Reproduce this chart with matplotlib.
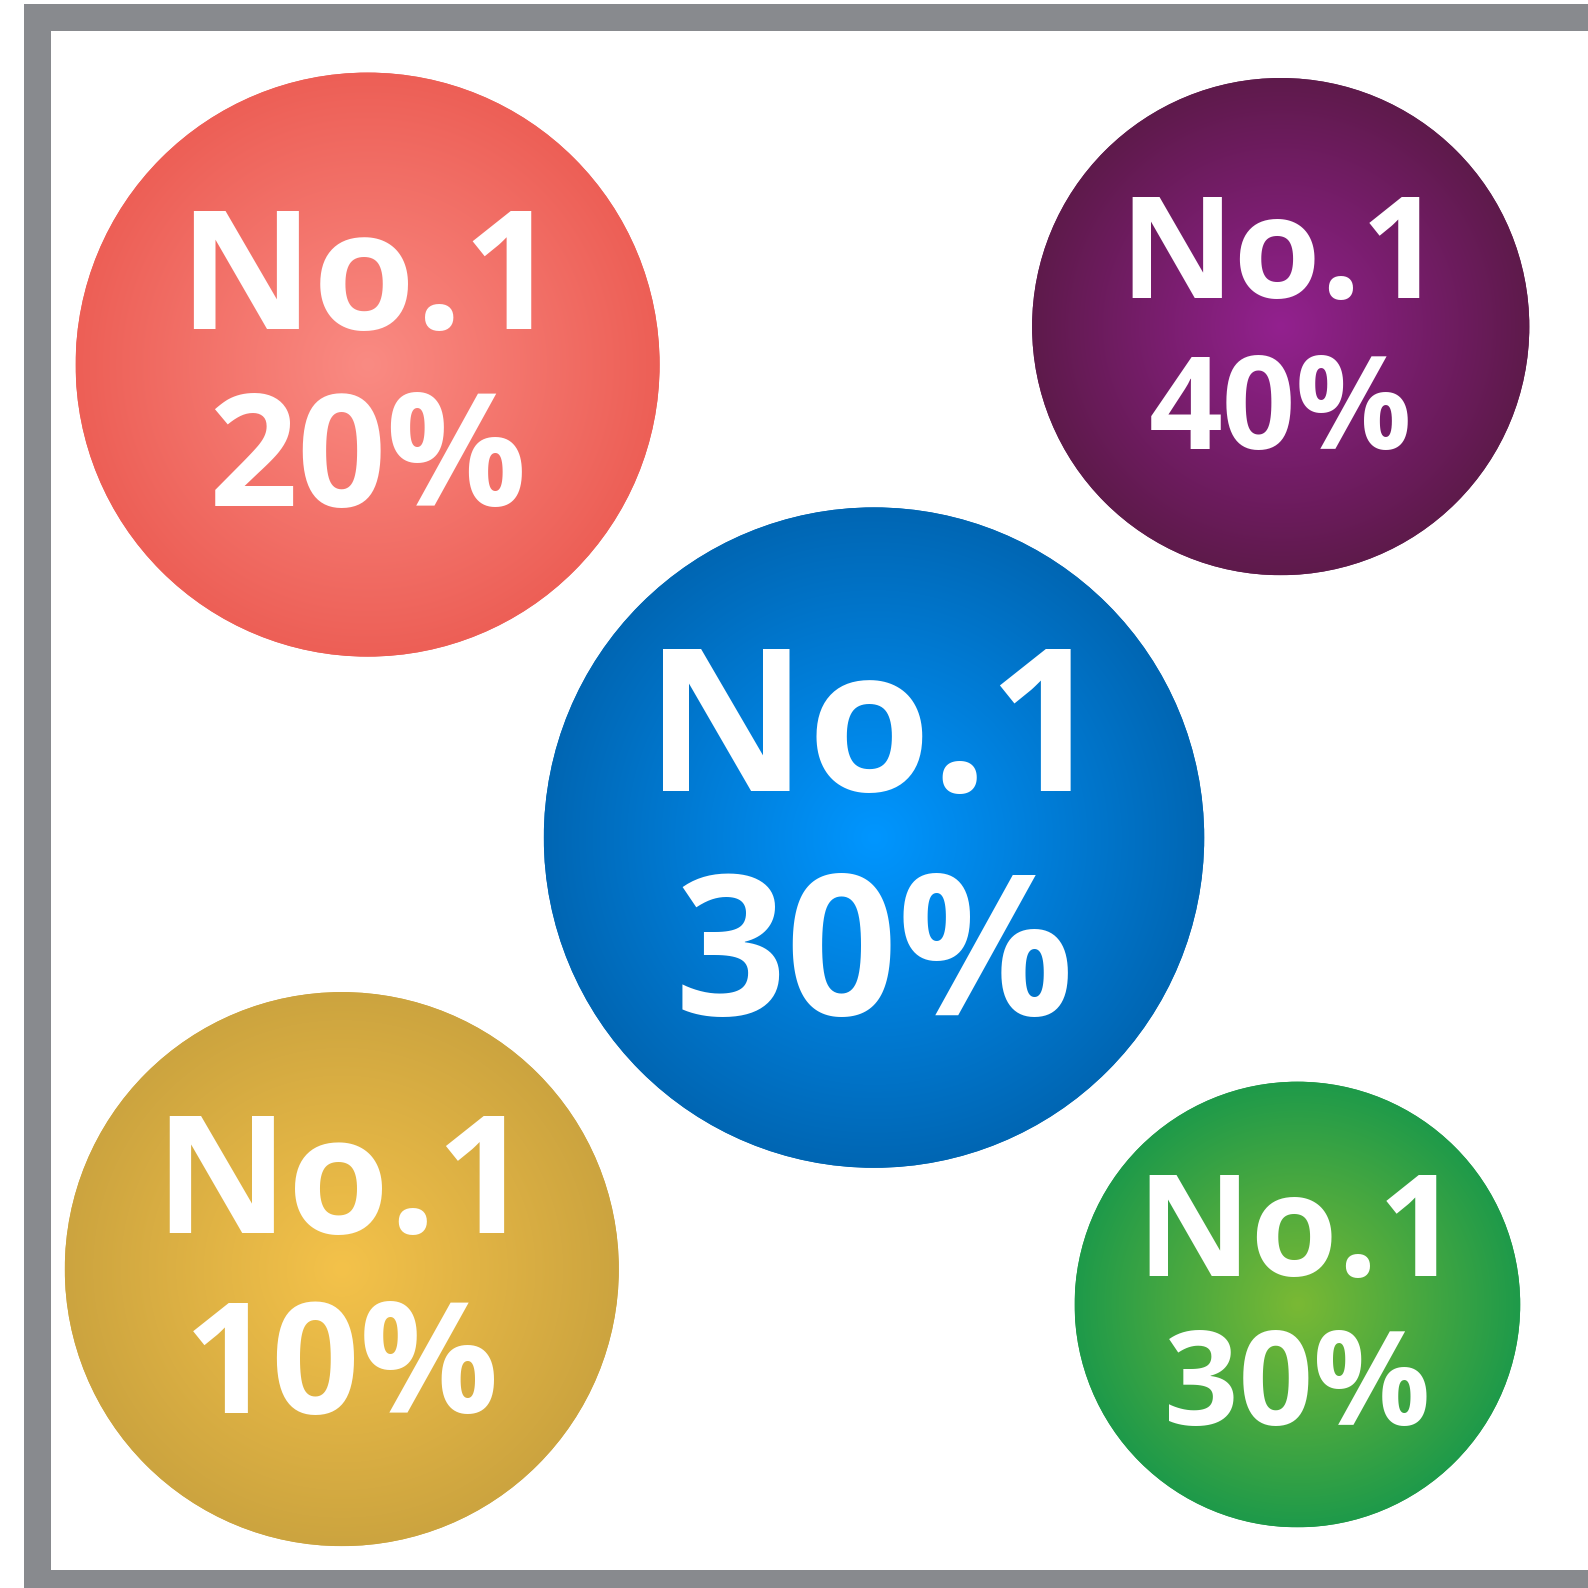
import numpy as np
import matplotlib
matplotlib.use("Agg")
import matplotlib.pyplot as plt
from matplotlib.patches import Circle, Rectangle
from matplotlib.colors import to_rgb

# ---- data ----
ranks = ["No.1", "No.1", "No.1", "No.1", "No.1"]
shares = ["20%", "40%", "30%", "10%", "30%"]
center_x = [367.6, 1280.7, 874.0, 341.8, 1297.4]
center_y = [364.6, 326.6, 837.6, 1269.1, 1304.5]
radius = [292.0, 248.6, 330.2, 277.0, 222.8]
inner_colors = ["#FA8B83", "#93218F", "#0096FF", "#F4C24A", "#7AB934"]
outer_colors = ["#ED5F56", "#5E1A4B", "#0066B3", "#CCA43F", "#1E9A4A"]

# text metrics (pixel cap heights and baselines)
rank_h = [128.6, 109.4, 155.0, 127.6, 109.4]
rank_base = [329.2, 297.8, 791.0, 1232.6, 1276.1]
share_h = [111.4, 92.2, 139.8, 110.4, 93.2]
share_base = [506.4, 448.7, 1014.8, 1412.9, 1425.0]

W = H = 1588
DPI = 100
fig = plt.figure(figsize=(W / DPI, H / DPI), dpi=DPI)
ax = fig.add_axes([0, 0, 1, 1])
ax.set_xlim(0, W)
ax.set_ylim(H, 0)
ax.axis("off")

# frame
gray = "#888A8E"
ax.add_patch(Rectangle((24, 4), W + 50, H + 50, facecolor=gray, edgecolor="none", zorder=0))
ax.add_patch(Rectangle((51, 31), W + 50, 1570 - 31, facecolor="white", edgecolor="none", zorder=1))

CAP = 0.714
px2pt = 72.0 / DPI
FONT = ["Open Sans", "DejaVu Sans"]

for i in range(len(ranks)):
    cx, cy, r = center_x[i], center_y[i], radius[i]
    c0 = np.array(to_rgb(inner_colors[i]))
    c1 = np.array(to_rgb(outer_colors[i]))
    n = 400
    xs = np.linspace(cx - r, cx + r, n)
    ys = np.linspace(cy - r, cy + r, n)
    X, Y = np.meshgrid(xs, ys)
    t = np.clip(np.hypot(X - cx, Y - cy) / r, 0, 1)[..., None]
    img = c0 * (1 - t) + c1 * t
    circ = Circle((cx, cy), r, facecolor=outer_colors[i], edgecolor="none", zorder=2)
    ax.add_patch(circ)
    im = ax.imshow(img, extent=(cx - r, cx + r, cy + r, cy - r), origin="upper",
                   zorder=3, interpolation="bilinear")
    im.set_clip_path(circ)

    ax.text(cx, rank_base[i], ranks[i], color="white", ha="center", va="baseline",
            fontsize=0.92 * rank_h[i] / CAP * px2pt, family=FONT, fontweight="bold", zorder=5)
    ax.text(cx, share_base[i], shares[i], color="white", ha="center", va="baseline",
            fontsize=share_h[i] / CAP * px2pt, family=FONT, fontweight="bold", zorder=5)

fig.savefig("out.png", dpi=DPI)
